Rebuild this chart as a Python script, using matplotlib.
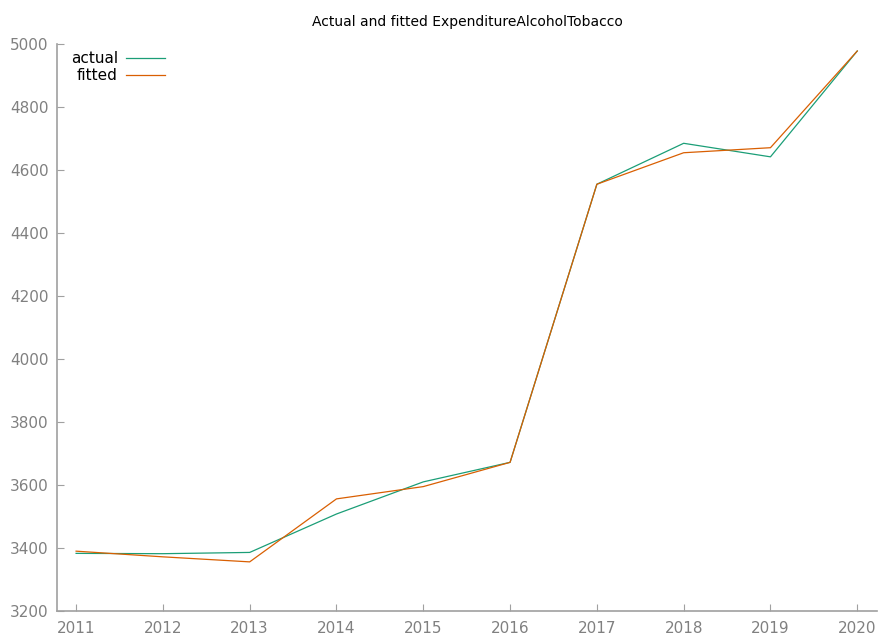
import numpy as np
import matplotlib
matplotlib.use("Agg")
import matplotlib.pyplot as plt

# Data
years = [2011, 2012, 2013, 2014, 2015, 2016, 2017, 2018, 2019, 2020]
actual = [3383, 3382, 3386, 3508, 3610, 3672, 4555, 4685, 4642, 4978]
fitted = [3390, 3372, 3356, 3556, 3595, 3672, 4555, 4655, 4671, 4978]
yticks = [3200, 3400, 3600, 3800, 4000, 4200, 4400, 4600, 4800, 5000]

fig = plt.figure(figsize=(8.81, 6.37), dpi=100)
ax = fig.add_axes([0.0647, 0.0408, 0.931, 0.890])

ax.plot(years, actual, color="#1b9e77", lw=0.9, label="actual")
ax.plot(years, fitted, color="#d95f02", lw=0.9, label="fitted")

ax.set_xlim(2010.78, 2020.23)
ax.set_ylim(3200, 5000)
ax.set_xticks(years)
ax.set_yticks(yticks)

grey = "#808080"
for s in ["top", "right"]:
    ax.spines[s].set_visible(False)
for s in ["left", "bottom"]:
    ax.spines[s].set_color("#a0a0a0")
    ax.spines[s].set_linewidth(1.2)
ax.tick_params(direction="in", length=5, color="#a0a0a0", labelcolor=grey,
               labelsize=11)
ax.tick_params(axis="x", pad=7)
ax.tick_params(axis="y", pad=6)

ax.set_title("Actual and fitted ExpenditureAlcoholTobacco", fontsize=10, pad=13)

leg = ax.legend(loc="upper left", bbox_to_anchor=(0.0, 1.012), frameon=False,
                markerfirst=False, fontsize=11, handlelength=2.6,
                labelspacing=0.15, handletextpad=0.5)
for t in leg.get_texts():
    t.set_ha("right")

fig.savefig("out.png", dpi=100)
